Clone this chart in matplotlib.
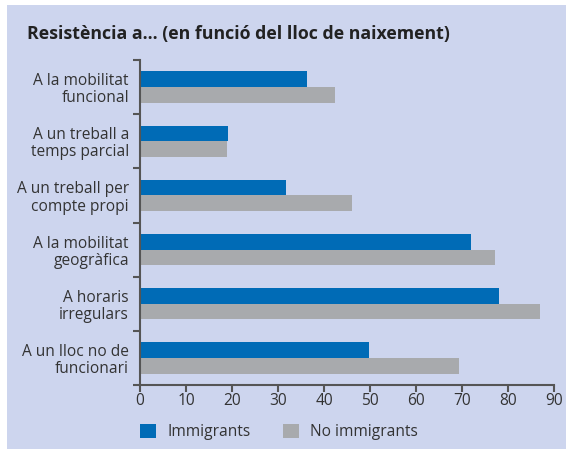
import numpy as np
import matplotlib.pyplot as plt
from matplotlib.patches import Patch, Rectangle

categories = ["A la mobilitat\nfuncional", "A un treball a\ntemps parcial",
              "A un treball per\ncompte propi", "A la mobilitat\ngeogràfica",
              "A horaris\nirregulars", "A un lloc no de\nfuncionari"]
immigrants = [36.2, 19.1, 31.7, 72.0, 78.0, 49.8]
no_immigrants = [42.4, 18.9, 46.1, 77.2, 87.0, 69.4]
xticks = [0, 10, 20, 30, 40, 50, 60, 70, 80, 90]

bg = '#cdd5ee'
blue = '#006bb6'
grey = '#a8aaad'
axis_col = '#555555'
text_col = '#333333'

plt.rcParams['font.family'] = ['Open Sans', 'DejaVu Sans']

W, H = 567, 449
fig = plt.figure(figsize=(W / 100, H / 100), dpi=100)
fig.patch.set_facecolor('white')
# lavender panel
fig.patches.append(Rectangle((7 / W, 0), (566 - 7) / W, (449 - 5) / H,
                             transform=fig.transFigure, facecolor=bg,
                             edgecolor='none', zorder=-1))

ax = fig.add_axes([140 / W, 1 - 385 / H, (554 - 140) / W, (385 - 60) / H])
ax.set_facecolor('none')

n = len(categories)
y = np.arange(n)
h = 0.29
ax.barh(y - h / 2, immigrants, height=h, color=blue, label='Immigrants')
ax.barh(y + h / 2, no_immigrants, height=h, color=grey, label='No immigrants')

fs = 11.2
ax.set_xlim(0, 90)
ax.set_ylim(n - 0.5, -0.5)
ax.set_xticks(xticks)
ax.set_xticklabels([str(v) for v in xticks], fontsize=fs, color=text_col)
ax.set_yticks(y)
ax.set_yticklabels(categories, fontsize=fs, color=text_col, linespacing=1.1)
ax.set_yticks(np.arange(n + 1) - 0.5, minor=True)
ax.tick_params(axis='y', which='major', length=0, pad=8)
ax.tick_params(axis='y', which='minor', length=5, width=1.5, color=axis_col)
ax.tick_params(axis='x', length=5, width=1.5, color=axis_col, pad=1)

for s in ['top', 'right']:
    ax.spines[s].set_visible(False)
for s in ['left', 'bottom']:
    ax.spines[s].set_color(axis_col)
    ax.spines[s].set_linewidth(1.5)

fig.text(27 / W, 1 - 34 / H, "Resistència a... (en funció del lloc de naixement)",
         fontsize=12.8, fontweight='bold', color='#222222', va='center', ha='left')

handles = [Patch(facecolor=blue, label='Immigrants'),
           Patch(facecolor=grey, label='No immigrants')]
fig.legend(handles=handles, loc='center left', bbox_to_anchor=(140 / W, 1 - 432 / H),
           ncol=2, frameon=False, fontsize=fs, handlelength=1.0, handleheight=1.0,
           columnspacing=2.1, handletextpad=0.75, borderpad=0, borderaxespad=0,
           labelcolor=text_col)

fig.savefig('out.png', dpi=100, facecolor=fig.get_facecolor())
